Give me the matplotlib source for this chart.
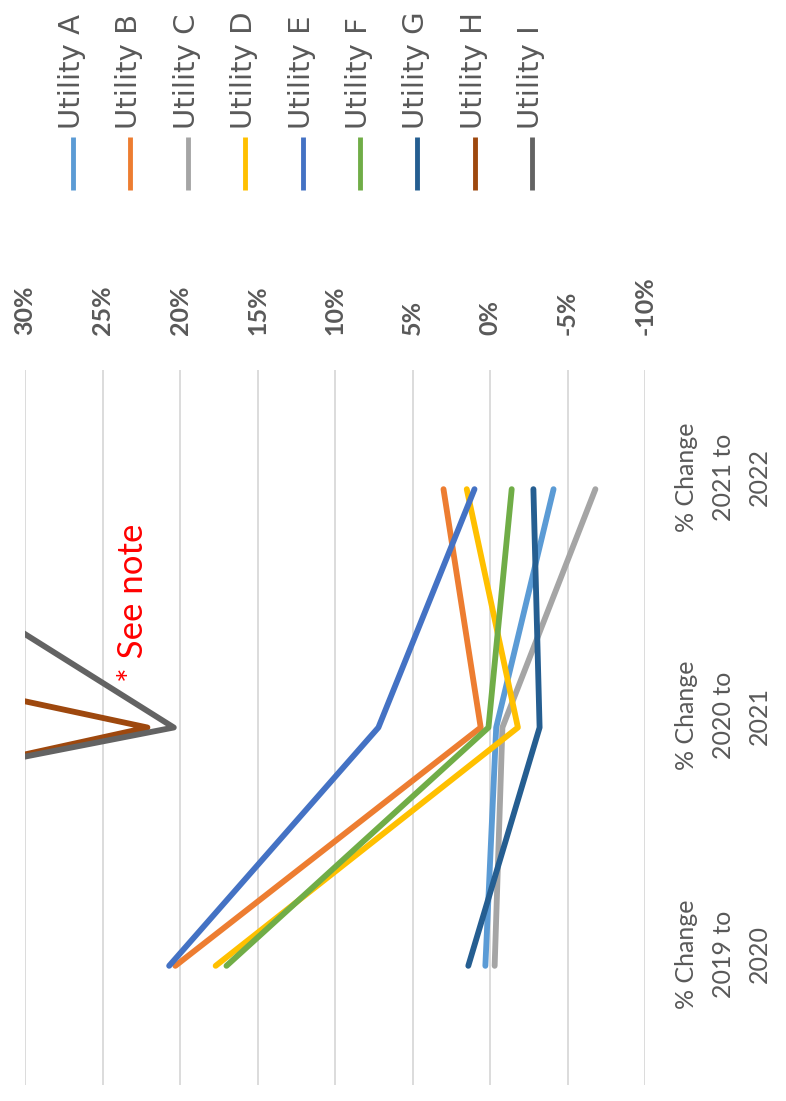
import matplotlib.pyplot as plt
from matplotlib.lines import Line2D
from matplotlib.ticker import MultipleLocator, FuncFormatter
from matplotlib.transforms import blended_transform_factory

# Year-over-year changes (%) for each utility
categories = ['% Change\n2019 to\n2020', '% Change\n2020 to\n2021', '% Change\n2021 to\n2022']
utility_names = ['Utility A', 'Utility B', 'Utility C', 'Utility D', 'Utility E',
                 'Utility F', 'Utility G', 'Utility H', 'Utility I']
util_a = [0.3, -0.4, -4.1]
util_b = [20.3, 0.6, 3.0]
util_c = [-0.3, -0.8, -6.8]
util_d = [17.7, -1.8, 1.5]
util_e = [20.7, 7.2, 1.0]
util_f = [17.0, 0.1, -1.4]
util_g = [1.4, -3.2, -2.8]
util_h = [92.0, 22.1, 94.0]
util_i = [99.0, 20.4, 44.9]
series = [util_a, util_b, util_c, util_d, util_e, util_f, util_g, util_h, util_i]

colors = ['#5B9BD5', '#ED7D31', '#A5A5A5', '#FFC000', '#4472C4',
          '#70AD47', '#255E91', '#9E480E', '#636363']

W, H = 786, 1101
text_gray = '#595959'

fig = plt.figure(figsize=(W / 100, H / 100), dpi=100)
ax = fig.add_axes([25 / W, 16 / H, 620 / W, 715 / H])

# Chart is laid out sideways: values run right-to-left, categories bottom-to-top
cat_pos = list(range(len(categories)))
for vals, name, c in zip(series, utility_names, colors):
    ax.plot(vals, cat_pos, color=c, lw=4.2, solid_capstyle='round', label=name)

ax.set_xlim(30, -10)
ax.set_ylim(-0.5, len(categories) - 0.5)
ax.xaxis.set_major_locator(MultipleLocator(5))
ax.xaxis.set_major_formatter(FuncFormatter(lambda v, p: f'{v:.0f}%'))
ax.xaxis.tick_top()
ax.tick_params(axis='x', length=0, pad=25, labelrotation=90, labelsize=18,
               labelcolor=text_gray)
for lbl in ax.get_xticklabels():
    lbl.set_fontfamily('Lato')
    lbl.set_fontweight('bold')
ax.grid(axis='x', color='#D9D9D9', lw=1.3)
ax.set_axisbelow(True)
ax.set_yticks([])

# Category labels to the right of the plot, sitting slightly above each category
trans = blended_transform_factory(fig.transFigure, ax.transData)
for pos, cat in zip(cat_pos, categories):
    ax.text(675 / W, pos + 0.05, cat, transform=trans, rotation=90,
            ha='left', va='center', multialignment='center', linespacing=1.72,
            fontfamily='Lato', fontsize=18, color=text_gray)

for s in ax.spines.values():
    s.set_visible(False)

# Legend, drawn as a row of vertical swatches across the top
for i, (name, c) in enumerate(zip(utility_names, colors)):
    x = (73 + 57.4 * i) / W
    fig.add_artist(Line2D([x, x], [1 - 137 / H, 1 - 190 / H], transform=fig.transFigure,
                          color=c, lw=3.5, solid_capstyle='butt'))
    fig.text(x - 1 / W, 1 - 129 / H, name, rotation=90, ha='center', va='bottom',
             fontsize=21, color=text_gray, fontfamily='DejaVu Sans')

fig.text(133 / W, 1 - 603 / H, '* See note', rotation=90, ha='center', va='center',
         fontsize=25, color='red', fontfamily='Lato')

plt.savefig('out.png', dpi=100)
plt.close()
